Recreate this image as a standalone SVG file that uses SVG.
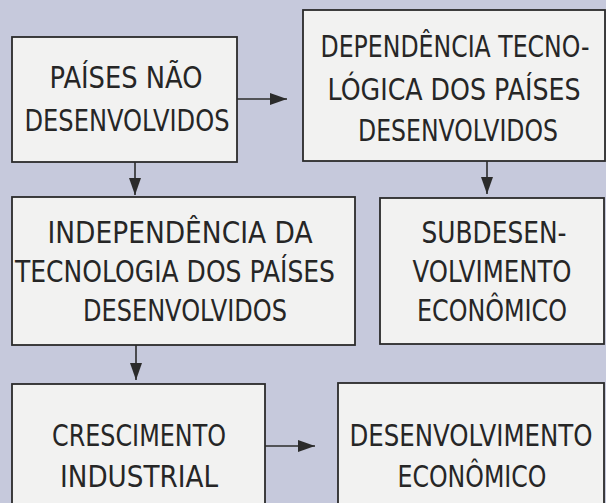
<svg xmlns="http://www.w3.org/2000/svg" width="606" height="503" viewBox="0 0 606 503">
<style>
.bg{fill:#c6c9dc}
.box{fill:#f2f2f1;stroke:#2b2b2b;stroke-width:1.8}
.t{font-family:"DejaVu Sans","Liberation Sans",sans-serif;font-size:24px;fill:#262626;text-anchor:middle}
.c{stroke:#2b2b2b;stroke-width:1.6;fill:none}
</style>
<defs>
<marker id="ah" markerUnits="userSpaceOnUse" markerWidth="17" markerHeight="12" refX="17" refY="6" orient="auto">
<path d="M0,0 L17,6 L0,12 z" fill="#2b2b2b"/>
</marker>
</defs>
<rect class="bg" x="0" y="0" width="606" height="503"/>
<g id="connectors">
<line class="c" x1="237" y1="99" x2="287" y2="99" marker-end="url(#ah)"/>
<line class="c" x1="135" y1="162" x2="135" y2="195" marker-end="url(#ah)"/>
<line class="c" x1="487" y1="161" x2="487" y2="194" marker-end="url(#ah)"/>
<line class="c" x1="136" y1="345" x2="136" y2="380" marker-end="url(#ah)"/>
<line class="c" x1="265" y1="446" x2="315" y2="446" marker-end="url(#ah)"/>
</g>
<g id="n1">
<rect class="box" x="12" y="37" width="225" height="125"/>
<text class="t" transform="translate(126 88) scale(1 1.26)" textLength="153" lengthAdjust="spacingAndGlyphs">PAÍSES NÃO</text>
<text class="t" transform="translate(127 131) scale(1 1.26)" textLength="205" lengthAdjust="spacingAndGlyphs">DESENVOLVIDOS</text>
</g>
<g id="n2">
<rect class="box" x="303" y="10" width="302" height="151"/>
<text class="t" transform="translate(455 57) scale(1 1.26)" textLength="269" lengthAdjust="spacingAndGlyphs">DEPENDÊNCIA TECNO-</text>
<text class="t" transform="translate(454 100) scale(1 1.26)" textLength="253" lengthAdjust="spacingAndGlyphs">LÓGICA DOS PAÍSES</text>
<text class="t" transform="translate(458 141) scale(1 1.26)" textLength="200" lengthAdjust="spacingAndGlyphs">DESENVOLVIDOS</text>
</g>
<g id="n3">
<rect class="box" x="12" y="197" width="343" height="148"/>
<text class="t" transform="translate(180 243) scale(1 1.26)" textLength="265" lengthAdjust="spacingAndGlyphs">INDEPENDÊNCIA DA</text>
<text class="t" transform="translate(175 282) scale(1 1.26)" textLength="320" lengthAdjust="spacingAndGlyphs">TECNOLOGIA DOS PAÍSES</text>
<text class="t" transform="translate(185 321) scale(1 1.26)" textLength="204" lengthAdjust="spacingAndGlyphs">DESENVOLVIDOS</text>
</g>
<g id="n4">
<rect class="box" x="380" y="198" width="224" height="146"/>
<text class="t" transform="translate(494 243) scale(1 1.26)" textLength="145" lengthAdjust="spacingAndGlyphs">SUBDESEN-</text>
<text class="t" transform="translate(492 282) scale(1 1.26)" textLength="159" lengthAdjust="spacingAndGlyphs">VOLVIMENTO</text>
<text class="t" transform="translate(492 321) scale(1 1.26)" textLength="150" lengthAdjust="spacingAndGlyphs">ECONÔMICO</text>
</g>
<g id="n5">
<rect class="box" x="12" y="384" width="253" height="130"/>
<text class="t" transform="translate(139 446) scale(1 1.26)" textLength="174" lengthAdjust="spacingAndGlyphs">CRESCIMENTO</text>
<text class="t" transform="translate(139 487) scale(1 1.26)" textLength="158" lengthAdjust="spacingAndGlyphs">INDUSTRIAL</text>
</g>
<g id="n6">
<rect class="box" x="338" y="383" width="266" height="131"/>
<text class="t" transform="translate(471 446) scale(1 1.26)" textLength="243" lengthAdjust="spacingAndGlyphs">DESENVOLVIMENTO</text>
<text class="t" transform="translate(472 487) scale(1 1.26)" textLength="149" lengthAdjust="spacingAndGlyphs">ECONÔMICO</text>
</g>
</svg>
